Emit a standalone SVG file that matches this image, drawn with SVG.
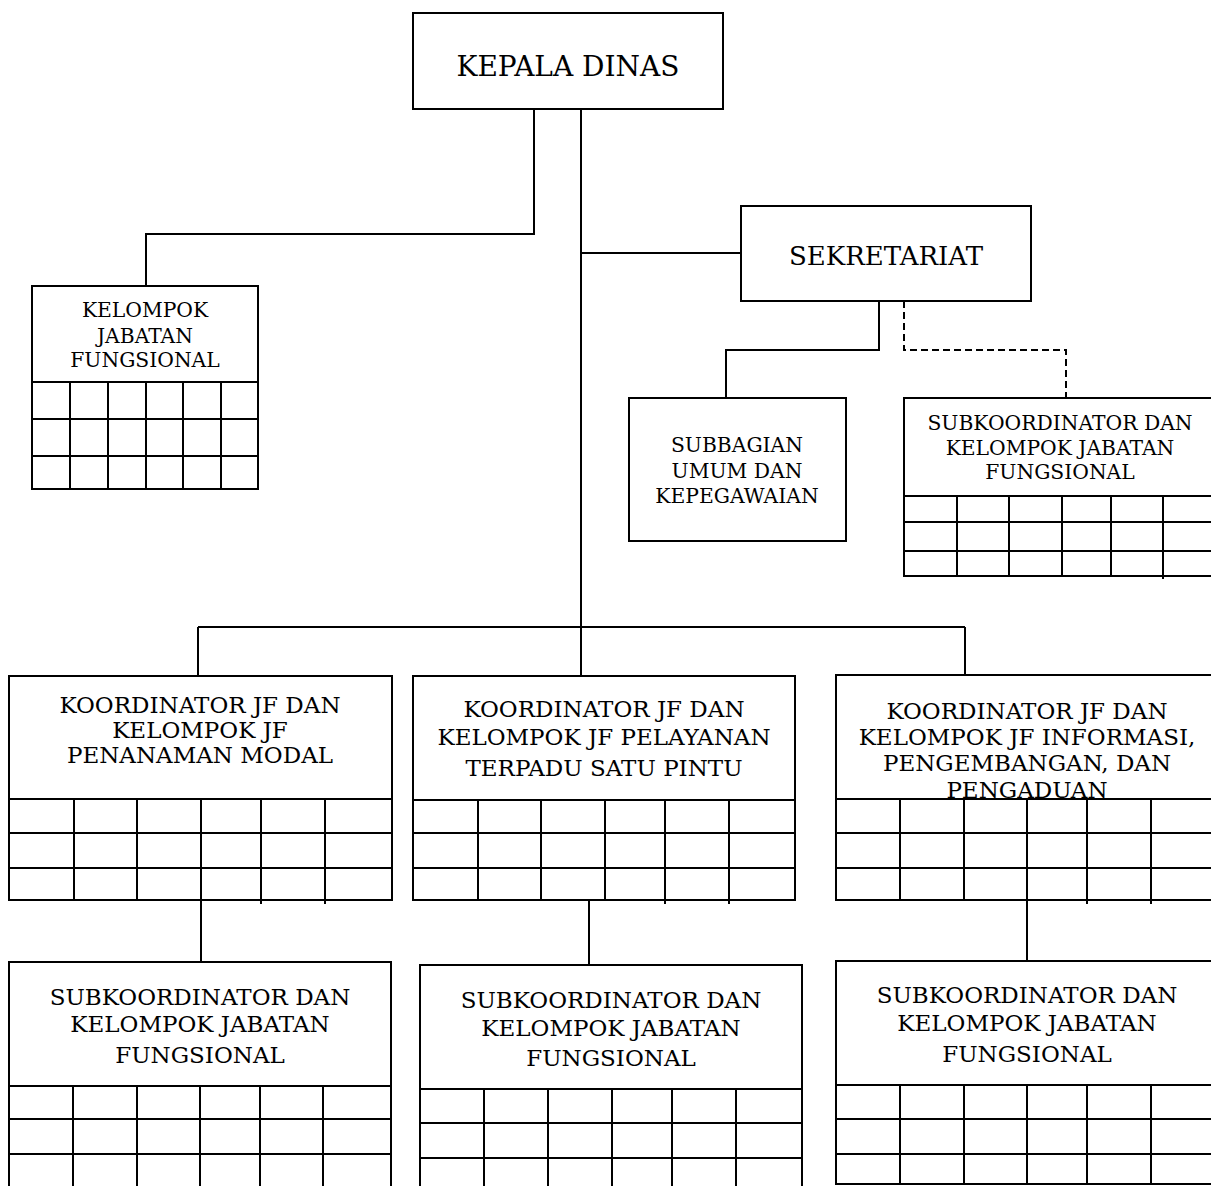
<svg xmlns="http://www.w3.org/2000/svg" width="1211" height="1186" viewBox="0 0 1211 1186">
<style>
.box{fill:#fff;stroke:#000;stroke-width:2}
.g{stroke:#000;stroke-width:2;fill:none}
.c{stroke:#000;stroke-width:2;fill:none}
.d{stroke:#000;stroke-width:2;fill:none;stroke-dasharray:7,4}
text{font-family:"DejaVu Serif","Liberation Serif",serif;fill:#000;text-anchor:middle}
.big{font-size:26px}
.big2{font-size:28px}
.med{font-size:23px}
.sm{font-size:20.3px}
</style>
<rect width="1211" height="1186" fill="#fff"/>
<g id="connectors">
<path class="c" d="M534,109 V234 H146 V286"/>
<path class="c" d="M581,109 V676"/>
<path class="c" d="M581,253 H741"/>
<path class="c" d="M198,627 H965 M198,627 V676 M965,627 V675"/>
<path class="c" d="M879,301 V350 H726 V398"/>
<path class="d" d="M904,301 V350 H1066 V398"/>
<path class="c" d="M201,900 V962"/>
<path class="c" d="M589,900 V965"/>
<path class="c" d="M1027,900 V961"/>
</g>
<g id="kepala-dinas">
<rect class="box" x="413" y="13" width="310" height="96"/>
<text class="big2" x="568" y="76">KEPALA DINAS</text>
</g>
<g id="sekretariat">
<rect class="box" x="741" y="206" width="290" height="95"/>
<text class="big" x="886" y="265">SEKRETARIAT</text>
</g>
<g id="kelompok-jf">
<rect class="box" x="32" y="286" width="226" height="203"/>
<path class="g" d="M32,382 H258 M32,419 H258 M32,456 H258 M70,382 V489 M108,382 V489 M146,382 V489 M183,382 V489 M221,382 V489"/>
<text class="sm" x="145" y="317">KELOMPOK</text>
<text class="sm" x="145" y="343">JABATAN</text>
<text class="sm" x="145" y="367">FUNGSIONAL</text>
</g>
<g id="subbagian">
<rect class="box" x="629" y="398" width="217" height="143"/>
<text class="sm" x="737" y="452">SUBBAGIAN</text>
<text class="sm" x="737" y="478">UMUM DAN</text>
<text class="sm" x="737" y="503">KEPEGAWAIAN</text>
</g>
<g id="subkoordinator-sekretariat">
<rect class="box" x="904" y="398" width="320" height="178"/>
<path class="g" d="M904,496 H1224 M904,522 H1224 M904,551 H1224 M957,496 V576 M1009,496 V576 M1062,496 V576 M1111,496 V576 M1163,496 V579"/>
<text class="sm" x="1060" y="430">SUBKOORDINATOR DAN</text>
<text class="sm" x="1060" y="455">KELOMPOK JABATAN</text>
<text class="sm" x="1060" y="479">FUNGSIONAL</text>
</g>
<g id="koordinator-penanaman-modal">
<rect class="box" x="9" y="676" width="383" height="224"/>
<path class="g" d="M9,799 H392 M9,833 H392 M9,868 H392 M74,799 V900 M137,799 V900 M201,799 V900 M261,799 V904 M325,799 V904"/>
<text class="med" x="200" y="713">KOORDINATOR JF DAN</text>
<text class="med" x="200" y="738">KELOMPOK JF</text>
<text class="med" x="200" y="763">PENANAMAN MODAL</text>
</g>
<g id="koordinator-ptsp">
<rect class="box" x="413" y="676" width="382" height="224"/>
<path class="g" d="M413,800 H795 M413,833 H795 M413,868 H795 M478,800 V900 M541,800 V900 M605,800 V899 M665,800 V904 M729,800 V904"/>
<text class="med" x="604" y="717">KOORDINATOR JF DAN</text>
<text class="med" x="604" y="745">KELOMPOK JF PELAYANAN</text>
<text class="med" x="604" y="776">TERPADU SATU PINTU</text>
</g>
<g id="koordinator-informasi">
<rect class="box" x="836" y="675" width="390" height="225"/>
<path class="g" d="M836,799 H1226 M836,833 H1226 M836,868 H1226 M900,799 V900 M964,799 V900 M1027,799 V900 M1087,799 V904 M1151,799 V904"/>
<text class="med" x="1027" y="719">KOORDINATOR JF DAN</text>
<text class="med" x="1027" y="745">KELOMPOK JF INFORMASI,</text>
<text class="med" x="1027" y="771">PENGEMBANGAN, DAN</text>
<text class="med" x="1027" y="798">PENGADUAN</text>
</g>
<g id="subkoordinator-penanaman-modal">
<rect class="box" x="9" y="962" width="382" height="240"/>
<path class="g" d="M9,1086 H391 M9,1119 H391 M9,1154 H391 M73,1086 V1202 M137,1086 V1202 M200,1086 V1202 M260,1086 V1202 M323,1086 V1202"/>
<text class="med" x="200" y="1005">SUBKOORDINATOR DAN</text>
<text class="med" x="200" y="1032">KELOMPOK JABATAN</text>
<text class="med" x="200" y="1063">FUNGSIONAL</text>
</g>
<g id="subkoordinator-ptsp">
<rect class="box" x="420" y="965" width="382" height="240"/>
<path class="g" d="M420,1089 H802 M420,1123 H802 M420,1158 H802 M484,1089 V1205 M548,1089 V1205 M612,1089 V1205 M672,1089 V1205 M736,1089 V1205"/>
<text class="med" x="611" y="1008">SUBKOORDINATOR DAN</text>
<text class="med" x="611" y="1036">KELOMPOK JABATAN</text>
<text class="med" x="611" y="1066">FUNGSIONAL</text>
</g>
<g id="subkoordinator-informasi">
<rect class="box" x="836" y="961" width="390" height="223"/>
<path class="g" d="M836,1085 H1226 M836,1119 H1226 M836,1154 H1226 M900,1085 V1184 M964,1085 V1184 M1027,1085 V1184 M1087,1085 V1184 M1151,1085 V1184"/>
<text class="med" x="1027" y="1003">SUBKOORDINATOR DAN</text>
<text class="med" x="1027" y="1031">KELOMPOK JABATAN</text>
<text class="med" x="1027" y="1062">FUNGSIONAL</text>
</g>
</svg>
